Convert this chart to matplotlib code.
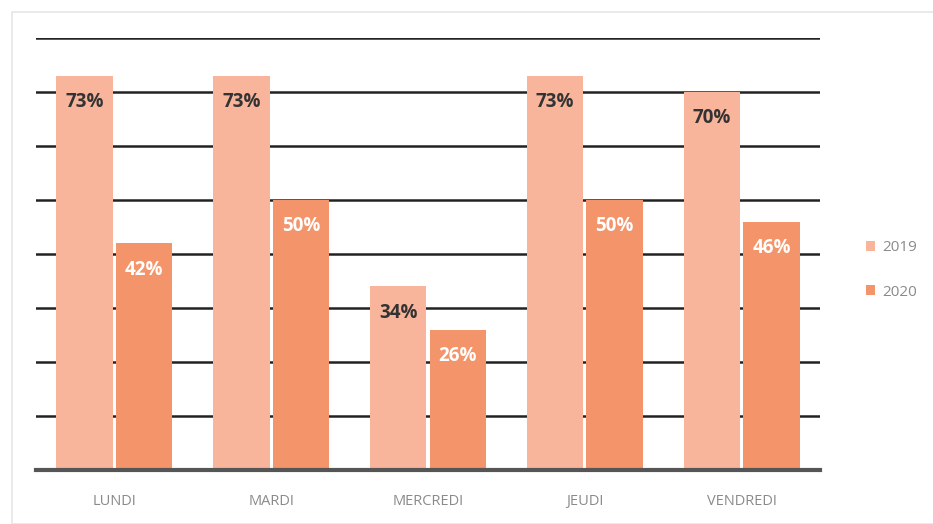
import numpy as np
import matplotlib.pyplot as plt
from matplotlib.patches import Rectangle

# data
days = ["LUNDI", "MARDI", "MERCREDI", "JEUDI", "VENDREDI"]
series_names = ["2019", "2020"]
values_2019 = [73, 73, 34, 73, 70]
values_2020 = [42, 50, 26, 50, 46]

color_2019 = "#F8B59C"
color_2020 = "#F3946A"

plt.rcParams['font.family'] = ['Open Sans', 'DejaVu Sans']

W, H = 933, 524
fig = plt.figure(figsize=(W / 100, H / 100), dpi=100)
fig.patch.set_facecolor("white")

# light frame around the chart area
fig.add_artist(Rectangle((12 / W, 0), 1.0, (H - 12) / H, transform=fig.transFigure,
                         fill=False, edgecolor="#e6e6e6", linewidth=1.2))

ax = fig.add_axes([36 / W, (H - 470) / H, (820 - 36) / W, (470 - 38) / H])

x = np.arange(len(days))
width = 0.36
gap = 0.01
b1 = ax.bar(x - width / 2 - gap, values_2019, width, color=color_2019, label=series_names[0], zorder=3)
b2 = ax.bar(x + width / 2 + gap, values_2020, width, color=color_2020, label=series_names[1], zorder=3)

ax.set_xlim(-0.5, len(days) - 0.5)
ax.set_ylim(0, 80)
ax.set_yticks(np.arange(0, 81, 10))
ax.yaxis.grid(True, color="#222222", linewidth=1.8, zorder=0)
ax.tick_params(axis="y", left=False, labelleft=False)
ax.tick_params(axis="x", bottom=False, colors="#8a8a8a", labelsize=10.5, pad=14)
ax.set_xticks(x)
ax.set_xticklabels(days)
for s in ["top", "right", "left"]:
    ax.spines[s].set_visible(False)
ax.spines["bottom"].set_color("#555555")
ax.spines["bottom"].set_linewidth(3)
ax.spines["bottom"].set_zorder(4)

for bars, vals, tc in [(b1, values_2019, "#333333"), (b2, values_2020, "white")]:
    for rect, v in zip(bars, vals):
        ax.annotate(f"{v}%", (rect.get_x() + rect.get_width() / 2, v),
                    xytext=(0, -19), textcoords="offset points",
                    ha="center", va="center", fontsize=13.5, fontweight="bold",
                    color=tc, zorder=5)

leg = fig.legend(handles=[b1, b2], labels=series_names, loc="center left",
                 bbox_to_anchor=(852 / W, (H - 270) / H), frameon=False,
                 handlelength=0.6, handleheight=0.6, handletextpad=0.5,
                 labelspacing=1.9, fontsize=11)
for t in leg.get_texts():
    t.set_color("#8a8a8a")

fig.savefig("out.png", dpi=100)
